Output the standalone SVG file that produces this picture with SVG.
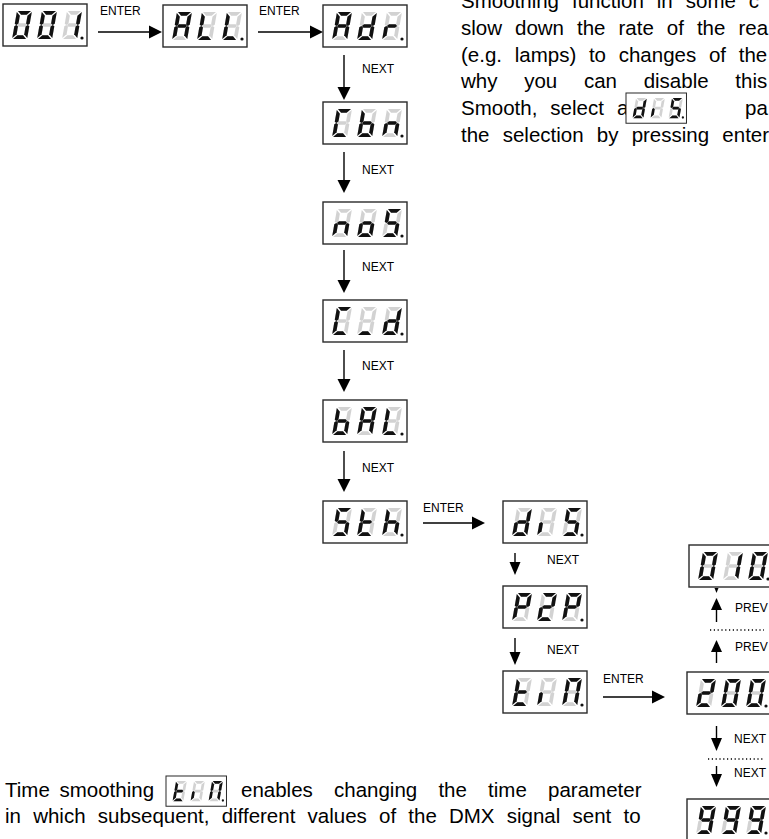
<svg xmlns="http://www.w3.org/2000/svg" xmlns:xlink="http://www.w3.org/1999/xlink" width="769" height="839" viewBox="0 0 769 839">
<style>
.box{fill:#fff;stroke:#2a2a2a;stroke-width:1.4}
.off{fill:#d2d2d2}
.on{fill:#111}
.dot{fill:#111}
.lbl{font-family:"Liberation Sans",Arial,sans-serif;font-size:12px;fill:#000}
.para{font-family:"Liberation Sans",Arial,sans-serif;font-size:20.5px;fill:#000}
.ln{stroke:#000;stroke-width:1.4;fill:none}
.dash{stroke:#000;stroke-width:1.4;fill:none;stroke-dasharray:1.2 2.6}
.head{fill:#000}
</style>
<defs>
<path id="sa" d="M1,0H14L10.3,3.7H4.7Z"/>
<path id="sb" d="M15,1V12.8L13.2,14L11.3,12.6V4.7Z"/>
<path id="sc" d="M15,15.2V27L11.3,23.3V15.4L13.2,14Z"/>
<path id="sd" d="M1,28H14L10.3,24.3H4.7Z"/>
<path id="se" d="M0,15.2L1.8,14L3.7,15.4V23.3L0,27Z"/>
<path id="sf" d="M0,1L3.7,4.7V12.6L1.8,14L0,12.8Z"/>
<path id="sg" d="M2.4,14L4.2,12.2H10.8L12.6,14L10.8,15.8H4.2Z"/>
<g id="s8" class="off"><use href="#sa"/><use href="#sb"/><use href="#sc"/><use href="#sd"/><use href="#se"/><use href="#sf"/><use href="#sg"/></g>
<g id="c0" transform="skewX(-10)"><use href="#s8"/><g class="on"><use href="#sa"/><use href="#sb"/><use href="#sc"/><use href="#sd"/><use href="#se"/><use href="#sf"/></g></g>
<g id="c1" transform="skewX(-10)"><use href="#s8"/><g class="on"><use href="#sb"/><use href="#sc"/></g></g>
<g id="c2" transform="skewX(-10)"><use href="#s8"/><g class="on"><use href="#sa"/><use href="#sb"/><use href="#sg"/><use href="#se"/><use href="#sd"/></g></g>
<g id="c9" transform="skewX(-10)"><use href="#s8"/><g class="on"><use href="#sa"/><use href="#sb"/><use href="#sc"/><use href="#sd"/><use href="#sf"/><use href="#sg"/></g></g>
<g id="cA" transform="skewX(-10)"><use href="#s8"/><g class="on"><use href="#sa"/><use href="#sb"/><use href="#sc"/><use href="#se"/><use href="#sf"/><use href="#sg"/></g></g>
<g id="cL" transform="skewX(-10)"><use href="#s8"/><g class="on"><use href="#sd"/><use href="#se"/><use href="#sf"/></g></g>
<g id="cd" transform="skewX(-10)"><use href="#s8"/><g class="on"><use href="#sb"/><use href="#sc"/><use href="#sd"/><use href="#se"/><use href="#sg"/></g></g>
<g id="cr" transform="skewX(-10)"><use href="#s8"/><g class="on"><use href="#se"/><use href="#sg"/></g></g>
<g id="cC" transform="skewX(-10)"><use href="#s8"/><g class="on"><use href="#sa"/><use href="#sd"/><use href="#se"/><use href="#sf"/></g></g>
<g id="cb" transform="skewX(-10)"><use href="#s8"/><g class="on"><use href="#sc"/><use href="#sd"/><use href="#se"/><use href="#sf"/><use href="#sg"/></g></g>
<g id="cn" transform="skewX(-10)"><use href="#s8"/><g class="on"><use href="#sc"/><use href="#se"/><use href="#sg"/></g></g>
<g id="co" transform="skewX(-10)"><use href="#s8"/><g class="on"><use href="#sc"/><use href="#sd"/><use href="#se"/><use href="#sg"/></g></g>
<g id="cS" transform="skewX(-10)"><use href="#s8"/><g class="on"><use href="#sa"/><use href="#sf"/><use href="#sg"/><use href="#sc"/><use href="#sd"/></g></g>
<g id="cu" transform="skewX(-10)"><use href="#s8"/><g class="on"><use href="#sd"/></g></g>
<g id="ct" transform="skewX(-10)"><use href="#s8"/><g class="on"><use href="#sd"/><use href="#se"/><use href="#sf"/><use href="#sg"/></g></g>
<g id="ch" transform="skewX(-10)"><use href="#s8"/><g class="on"><use href="#sc"/><use href="#se"/><use href="#sf"/><use href="#sg"/></g></g>
<g id="ci" transform="skewX(-10)"><use href="#s8"/><g class="on"><use href="#se"/></g></g>
<g id="cP" transform="skewX(-10)"><use href="#s8"/><g class="on"><use href="#sa"/><use href="#sb"/><use href="#se"/><use href="#sf"/><use href="#sg"/></g></g>
<g id="cm" transform="skewX(-10)"><use href="#s8"/><g class="on"><use href="#sa"/><use href="#sb"/><use href="#sc"/><use href="#se"/><use href="#sf"/></g></g>
<rect id="frame" class="box" width="84" height="42"/>
<circle id="pt" class="dot" cx="79" cy="34" r="1.6"/>
</defs>

<g id="connectors">
<g id="e-001-ALL"><line class="ln" x1="98" y1="32" x2="150" y2="32"/><polygon class="head" points="162,32 149,25.5 149,38.5"/><text class="lbl" x="100" y="15">ENTER</text></g>
<g id="e-ALL-Adr"><line class="ln" x1="258" y1="32" x2="311" y2="32"/><polygon class="head" points="323,32 310,25.5 310,38.5"/><text class="lbl" x="259" y="15">ENTER</text></g>
<g id="e-Adr-Cbn"><line class="ln" x1="344" y1="55" x2="344" y2="88"/><polygon class="head" points="344,100 337.5,87 350.5,87"/><text class="lbl" x="362" y="73">NEXT</text></g>
<g id="e-Cbn-noS"><line class="ln" x1="344" y1="152" x2="344" y2="181"/><polygon class="head" points="344,193 337.5,180 350.5,180"/><text class="lbl" x="362" y="174">NEXT</text></g>
<g id="e-noS-Cd"><line class="ln" x1="344" y1="250" x2="344" y2="281"/><polygon class="head" points="344,293 337.5,280 350.5,280"/><text class="lbl" x="362" y="271">NEXT</text></g>
<g id="e-Cd-bAL"><line class="ln" x1="344" y1="350" x2="344" y2="380"/><polygon class="head" points="344,392 337.5,379 350.5,379"/><text class="lbl" x="362" y="370">NEXT</text></g>
<g id="e-bAL-Sth"><line class="ln" x1="344" y1="451" x2="344" y2="480"/><polygon class="head" points="344,492 337.5,479 350.5,479"/><text class="lbl" x="362" y="472">NEXT</text></g>
<g id="e-Sth-dIS"><line class="ln" x1="423" y1="523" x2="473" y2="523"/><polygon class="head" points="485,523 472,516.5 472,529.5"/><text class="lbl" x="423" y="512">ENTER</text></g>
<g id="e-dIS-P2P"><line class="ln" x1="515" y1="553" x2="515" y2="563"/><polygon class="head" points="515,575 509.5,562 520.5,562"/><text class="lbl" x="547" y="564">NEXT</text></g>
<g id="e-P2P-tIn"><line class="ln" x1="515" y1="638" x2="515" y2="653"/><polygon class="head" points="515,665 509.5,652 520.5,652"/><text class="lbl" x="547" y="654">NEXT</text></g>
<g id="e-tIn-200"><line class="ln" x1="603" y1="697" x2="653" y2="697"/><polygon class="head" points="665,697 652,690.5 652,703.5"/><text class="lbl" x="603" y="683">ENTER</text></g>
<g id="e-200-down"><line class="ln" x1="716.5" y1="726" x2="716.5" y2="739"/><polygon class="head" points="716.5,751 711,738 722,738"/><text class="lbl" x="734" y="743">NEXT</text></g>
<line id="e-dots-low" class="dash" x1="708" y1="759" x2="764" y2="759"/>
<g id="e-down-999"><line class="ln" x1="716.5" y1="766" x2="716.5" y2="775"/><polygon class="head" points="716.5,787 711,774 722,774"/><text class="lbl" x="734" y="777">NEXT</text></g>
<g id="e-200-up"><line class="ln" x1="716.5" y1="663" x2="716.5" y2="651"/><polygon class="head" points="716.5,640 711,652 722,652"/><text class="lbl" x="735" y="651">PREV</text></g>
<line id="e-dots-high" class="dash" x1="710" y1="630" x2="764" y2="630"/>
<g id="e-up-010"><line class="ln" x1="716.5" y1="622" x2="716.5" y2="609"/><polygon class="head" points="716.5,598 711,610 722,610"/><polygon class="head" points="714.5,588 718.5,588 716.5,593"/><text class="lbl" x="735" y="612">PREV</text></g>
</g>

<g id="n-001" transform="translate(3,4)"><use href="#frame"/><use href="#c0" transform="translate(14,7)"/><use href="#c0" transform="translate(39,7)"/><use href="#c1" transform="translate(64,7)"/><use href="#pt"/></g>
<g id="n-ALL" transform="translate(163,5)"><use href="#frame"/><use href="#cA" transform="translate(14,7)"/><use href="#cL" transform="translate(39,7)"/><use href="#cL" transform="translate(64,7)"/><use href="#pt"/></g>
<g id="n-Adr" transform="translate(323,5)"><use href="#frame"/><use href="#cA" transform="translate(14,7)"/><use href="#cd" transform="translate(39,7)"/><use href="#cr" transform="translate(64,7)"/><use href="#pt"/></g>
<g id="n-Cbn" transform="translate(323,102)"><use href="#frame"/><use href="#cC" transform="translate(14,7)"/><use href="#cb" transform="translate(39,7)"/><use href="#cn" transform="translate(64,7)"/><use href="#pt"/></g>
<g id="n-noS" transform="translate(323,202)"><use href="#frame"/><use href="#cn" transform="translate(14,7)"/><use href="#co" transform="translate(39,7)"/><use href="#cS" transform="translate(64,7)"/><use href="#pt"/></g>
<g id="n-Cd" transform="translate(323,300)"><use href="#frame"/><use href="#cC" transform="translate(14,7)"/><use href="#cu" transform="translate(39,7)"/><use href="#cd" transform="translate(64,7)"/><use href="#pt"/></g>
<g id="n-bAL" transform="translate(323,400)"><use href="#frame"/><use href="#cb" transform="translate(14,7)"/><use href="#cA" transform="translate(39,7)"/><use href="#cL" transform="translate(64,7)"/><use href="#pt"/></g>
<g id="n-Sth" transform="translate(323,501)"><use href="#frame"/><use href="#cS" transform="translate(14,7)"/><use href="#ct" transform="translate(39,7)"/><use href="#ch" transform="translate(64,7)"/><use href="#pt"/></g>
<g id="n-dIS" transform="translate(503,501)"><use href="#frame"/><use href="#cd" transform="translate(14,7)"/><use href="#ci" transform="translate(39,7)"/><use href="#cS" transform="translate(64,7)"/><use href="#pt"/></g>
<g id="n-P2P" transform="translate(503,586)"><use href="#frame"/><use href="#cP" transform="translate(14,7)"/><use href="#c2" transform="translate(39,7)"/><use href="#cP" transform="translate(64,7)"/><use href="#pt"/></g>
<g id="n-tIn" transform="translate(503,671)"><use href="#frame"/><use href="#ct" transform="translate(14,7)"/><use href="#ci" transform="translate(39,7)"/><use href="#cm" transform="translate(64,7)"/><use href="#pt"/></g>
<g id="n-010" transform="translate(689,545)"><use href="#frame"/><use href="#c0" transform="translate(14,7)"/><use href="#c1" transform="translate(39,7)"/><use href="#c0" transform="translate(64,7)"/><use href="#pt"/></g>
<g id="n-200" transform="translate(687,672)"><use href="#frame"/><use href="#c2" transform="translate(14,7)"/><use href="#c0" transform="translate(39,7)"/><use href="#c0" transform="translate(64,7)"/><use href="#pt"/></g>
<g id="n-999" transform="translate(687,799)"><use href="#frame"/><use href="#c9" transform="translate(14,7)"/><use href="#c9" transform="translate(39,7)"/><use href="#c9" transform="translate(64,7)"/><use href="#pt"/></g>

<g id="text-top">
<text class="para" x="461" y="8" word-spacing="7.3">Smoothing function in some c</text>
<text class="para" x="461" y="35" word-spacing="7.3">slow down the rate of the rea</text>
<text class="para" x="461" y="62" word-spacing="7">(e.g. lamps) to changes of the</text>
<text class="para" x="461" y="88" word-spacing="21">why you can disable this</text>
<text class="para" x="461" y="115" word-spacing="7.3">Smooth, select a</text>
<g id="inline-dIS" transform="translate(626,93) scale(0.72)"><use href="#frame"/><use href="#cd" transform="translate(14,7)"/><use href="#ci" transform="translate(39,7)"/><use href="#cS" transform="translate(64,7)"/><use href="#pt"/></g>
<text class="para" x="745" y="115">pa</text>
<text class="para" x="461" y="142" word-spacing="7.5">the selection by pressing enter</text>
</g>
<g id="text-bottom">
<text class="para" x="5" y="797" word-spacing="4">Time smoothing</text>
<g id="inline-tIn" transform="translate(166,776) scale(0.72)"><use href="#frame"/><use href="#ct" transform="translate(14,7)"/><use href="#ci" transform="translate(39,7)"/><use href="#cm" transform="translate(64,7)"/><use href="#pt"/></g>
<text class="para" x="241" y="797" word-spacing="15.5">enables changing the time parameter</text>
<text class="para" x="5" y="823" word-spacing="6.5">in which subsequent, different values of the DMX signal sent to</text>
</g>
</svg>
